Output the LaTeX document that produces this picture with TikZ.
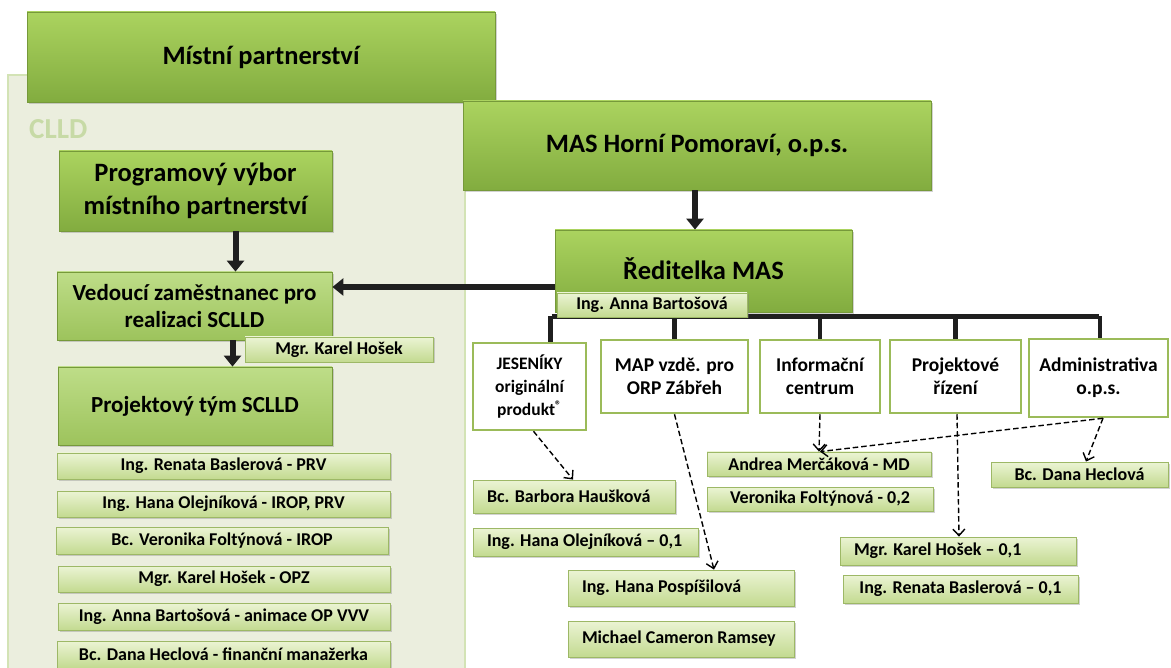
\documentclass[tikz,border=0pt]{standalone}
\usepackage{fontspec}
\setmainfont{Carlito}
\usetikzlibrary{arrows.meta,shadows,calc}
\definecolor{gTop}{HTML}{ABD35F}
\definecolor{gBot}{HTML}{82AC3F}
\definecolor{gEdge}{HTML}{76993A}
\definecolor{lTop}{HTML}{BEDD88}
\definecolor{lBot}{HTML}{9DC35C}
\definecolor{tTop}{HTML}{EBF4D4}
\definecolor{tBot}{HTML}{C3DA90}
\definecolor{tEdge}{HTML}{9DB866}
\definecolor{wEdge}{HTML}{9BBB59}
\definecolor{panelFill}{HTML}{EBEEDE}
\definecolor{panelEdge}{HTML}{D3E3B5}
\definecolor{clldText}{HTML}{C7DAA6}
\newcommand\mybox[7]{\node[#1, minimum width={#5pt-#3pt}, minimum height={#6pt-#4pt}] (#2) at ({(#3+#5)/2},{(#4+#6)/2}) {#7};}
\newcommand\lft[2]{\makebox[#1][l]{#2}}
\tikzset{
  big/.style={draw=gEdge, line width=0.8pt, top color=gTop, bottom color=gBot, inner sep=0pt, align=center,
    drop shadow={opacity=0.35, shadow xshift=2pt, shadow yshift=-2pt},
    font=\bfseries\fontsize{26.5}{33}\selectfont},
  mid/.style={big, top color=lTop, bottom color=lBot, font=\bfseries\fontsize{23}{27}\selectfont},
  tag/.style={draw=tEdge, line width=0.8pt, top color=tTop, bottom color=tBot, inner sep=0pt, align=center,
    drop shadow={opacity=0.35, shadow xshift=1.5pt, shadow yshift=-1.5pt},
    font=\bfseries\fontsize{18}{20}\selectfont},
  wbox/.style={draw=wEdge, line width=2.5pt, fill=white, inner sep=0pt, align=center,
    font=\bfseries\fontsize{19.5}{23}\selectfont},
  thickarrow/.style={line width=6pt, draw=black!88, -{Triangle[length=11pt,width=17pt]}},
  bus/.style={line width=4.5pt, draw=black!88},
  dasharrow/.style={line width=1.4pt, dash pattern=on 5.5pt off 3pt, -{Straight Barb[length=6.5pt,width=12pt]}}
}
\begin{document}
\begin{tikzpicture}[x=1pt,y=-1pt]
\clip (0,0) rectangle (1171,668);
\fill[white] (0,0) rectangle (1171,668);
% CLLD panel
\draw[panelEdge, line width=2pt, fill=panelFill] (8,75) rectangle (465,700);
\node[anchor=west, text=clldText, font=\bfseries\fontsize{29}{32}\selectfont, inner sep=0pt] (clld) at (29,129) {CLLD};

% top boxes
\mybox{big}{mp}{27}{12}{495}{102}{Místní partnerství}
\mybox{big}{mas}{463}{101}{931}{190}{MAS Horní Pomoraví, o.p.s.}
\mybox{big}{prog}{59}{151}{332}{231}{Programový výbor\\místního partnerství}
\mybox{mid}{ved}{57}{272}{332}{340}{Vedoucí zaměstnanec pro\\realizaci SCLLD}
\mybox{mid}{pt}{58}{367}{332}{445}{Projektový tým SCLLD}

% arrows left column
\draw[thickarrow] ([xshift=40pt]prog.south) -- ([xshift=40pt]prog.south |- ved.north);
\draw[thickarrow] ([xshift=38pt]ved.south) -- ([xshift=38pt]ved.south |- pt.north);
\mybox{tag}{kh}{245}{337}{433}{362}{Mgr. Karel Hošek}

% list
\mybox{tag}{l1}{57}{453}{390}{479}{Ing. Renata Baslerová - PRV}
\mybox{tag}{l2}{57}{491}{390}{517}{Ing. Hana Olejníková - IROP, PRV}
\mybox{tag}{l3}{56}{527}{388}{554}{Bc. Veronika Foltýnová - IROP}
\mybox{tag}{l4}{58}{566}{390}{592}{Mgr. Karel Hošek - OPZ}
\mybox{tag}{l5}{58}{603}{390}{630}{Ing. Anna Bartošová - animace OP VVV}
\mybox{tag}{l6}{57}{641}{390}{668}{Bc. Dana Heclová - finanční manažerka}

% director
\mybox{big}{red}{555}{230}{852}{312}{\raisebox{5pt}{Ředitelka MAS}}
\draw[thickarrow] ([xshift=-2pt]mas.south) -- ([xshift=-2pt]mas.south |- red.north);
\draw[thickarrow] ([yshift=-16pt]red.west) -- ([yshift=-16pt]red.west -| ved.east);

% white boxes
\mybox{wbox, font=\bfseries\fontsize{17.5}{23}\selectfont}{jes}{473}{343}{586}{430}{JESENÍKY\\originální\\produkt\textsuperscript{®}}
\mybox{wbox}{map}{601}{340}{748}{413}{MAP vzdě. pro\\ORP Zábřeh}
\mybox{wbox}{info}{760}{340}{880}{413}{Informační\\centrum}
\mybox{wbox}{proj}{890}{340}{1021}{413}{Projektové\\řízení}
\mybox{wbox}{adm}{1029}{339}{1168}{417}{Administrativa\\o.p.s.}

% bus
\coordinate (busL) at ([xshift=-3pt,yshift=-4pt]red.south west);
\coordinate (busR) at (busL -| adm.north);
\draw[bus] (busL) -- (busR);
\draw[bus] ([xshift=-1.25pt]busL) -- ([xshift=-1.25pt]busL |- jes.north);
\draw[bus] (busL -| map.north) -- (map.north);
\draw[bus] (busL -| info.north) -- (info.north);
\draw[bus] (busL -| proj.north) -- (proj.north);
\draw[bus] ([xshift=1.25pt]busR) -- ([xshift=1.25pt]adm.north);
\mybox{tag}{ab}{557}{293}{747}{317}{Ing. Anna Bartošová}

% people boxes
\mybox{tag}{andrea}{707}{452}{931}{476}{Andrea Merčáková - MD}
\mybox{tag}{vero}{707}{487}{933}{511}{Veronika Foltýnová - 0,2}
\mybox{tag}{dana}{991}{462}{1168}{487}{Bc. Dana Heclová}
\mybox{tag}{karel}{840}{537}{1076}{565}{\lft{208pt}{Mgr. Karel Hošek – 0,1}}
\mybox{tag}{renata}{843}{575}{1078}{603}{Ing. Renata Baslerová – 0,1}
\mybox{tag}{pospi}{568}{570}{794}{606}{\lft{198pt}{Ing. Hana Pospíšilová}}
\mybox{tag}{michael}{568}{621}{794}{657}{\lft{198pt}{Michael Cameron Ramsey}}
\mybox{tag}{barbora}{473}{480}{675}{513}{\lft{174pt}{Bc. Barbora Haušková}}
\mybox{tag}{hana}{473}{528}{698}{556}{\lft{197pt}{Ing. Hana Olejníková – 0,1}}

% dashed connectors
\draw[dasharrow] ([xshift=4pt]jes.south) -- ([xshift=-1pt]barbora.north);
\draw[dasharrow] (map.south) -- ([xshift=33pt]pospi.north);
\draw[dasharrow] (info.south) -- (andrea.north);
\draw[dasharrow] ([xshift=4.5pt]adm.south) -- ([xshift=1pt]andrea.north);
\draw[dasharrow] ([xshift=4.5pt]adm.south) -- ([xshift=6.5pt]dana.north);
\draw[dasharrow] ([xshift=1.5pt]proj.south) -- ([xshift=1pt]karel.north);
\end{tikzpicture}
\end{document}
